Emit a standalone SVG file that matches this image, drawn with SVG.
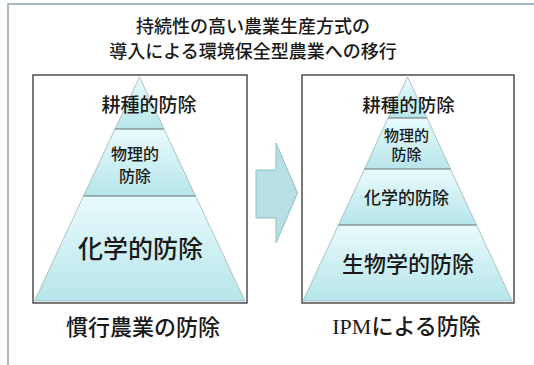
<svg xmlns="http://www.w3.org/2000/svg" width="534" height="365" viewBox="0 0 534 365">
<defs>
<linearGradient id="lay" x1="0" y1="0" x2="0" y2="1">
<stop offset="0" stop-color="#e9fbfc"/>
<stop offset="1" stop-color="#b6e5ea"/>
</linearGradient>
<style>
.t{font-family:"Noto Sans CJK JP","Noto Sans CJK SC",sans-serif;fill:#1a1a1a;text-anchor:middle;font-weight:500}
.box{fill:#ffffff;stroke:#333;stroke-width:1.3}
.lay{fill:url(#lay);stroke:#9fb4b8;stroke-width:0.8}
.div{stroke:#7d8c8e;stroke-width:1}
.frame{stroke:#8ea4ac;stroke-width:1.5;fill:none}
</style>
</defs>
<rect width="534" height="365" fill="#ffffff"/>
<path class="frame" d="M8 365 V4 H534"/>
<g id="title">
<text class="t" x="253" y="33" font-size="18">持続性の高い農業生産方式の</text>
<text class="t" x="253" y="57.5" font-size="18">導入による環境保全型農業への移行</text>
</g>
<g id="conventional">
<rect class="box" x="33" y="75" width="214" height="228"/>
<polygon class="lay" points="139.5,77 164,129 115,129"/>
<polygon class="lay" points="115,129 164,129 195.5,196 83.5,196"/>
<polygon class="lay" points="83.5,196 195.5,196 245,301 34.5,301"/>
<line class="div" x1="115" y1="129" x2="164" y2="129"/>
<line class="div" x1="83.5" y1="196" x2="195.5" y2="196"/>
<text class="t" x="149" y="111.5" font-size="19">耕種的防除</text>
<text class="t" x="135" y="159.5" font-size="16">物理的</text>
<text class="t" x="135" y="181.5" font-size="16">防除</text>
<text class="t" x="140.5" y="258" font-size="25">化学的防除</text>
<text class="t" x="143" y="335" font-size="22">慣行農業の防除</text>
</g>
<g id="connectors">
<polygon points="256,170 276,170 276,143 297.5,193 276,243 276,218 256,218" fill="#b8e0e4" stroke="#8cc0c6" stroke-width="1"/>
</g>
<g id="ipm">
<rect class="box" x="302" y="75" width="212" height="228"/>
<polygon class="lay" points="407.5,77 427,118 388,118"/>
<polygon class="lay" points="388,118 427,118 450.5,169 364.5,169"/>
<polygon class="lay" points="364.5,169 450.5,169 476.5,225 338.5,225"/>
<polygon class="lay" points="338.5,225 476.5,225 512,301 303,301"/>
<line class="div" x1="388" y1="118" x2="427" y2="118"/>
<line class="div" x1="364.5" y1="169" x2="450.5" y2="169"/>
<line class="div" x1="338.5" y1="225" x2="476.5" y2="225"/>
<text class="t" x="408.5" y="111.5" font-size="18.5">耕種的防除</text>
<text class="t" x="406.5" y="140.5" font-size="15">物理的</text>
<text class="t" x="406.5" y="159.5" font-size="15">防除</text>
<text class="t" x="406.5" y="204" font-size="17">化学的防除</text>
<text class="t" x="408" y="272" font-size="22">生物学的防除</text>
<text class="t" x="406.5" y="334" font-size="22"><tspan font-family="Liberation Serif" font-weight="normal">IPM</tspan>による防除</text>
</g>
</svg>
